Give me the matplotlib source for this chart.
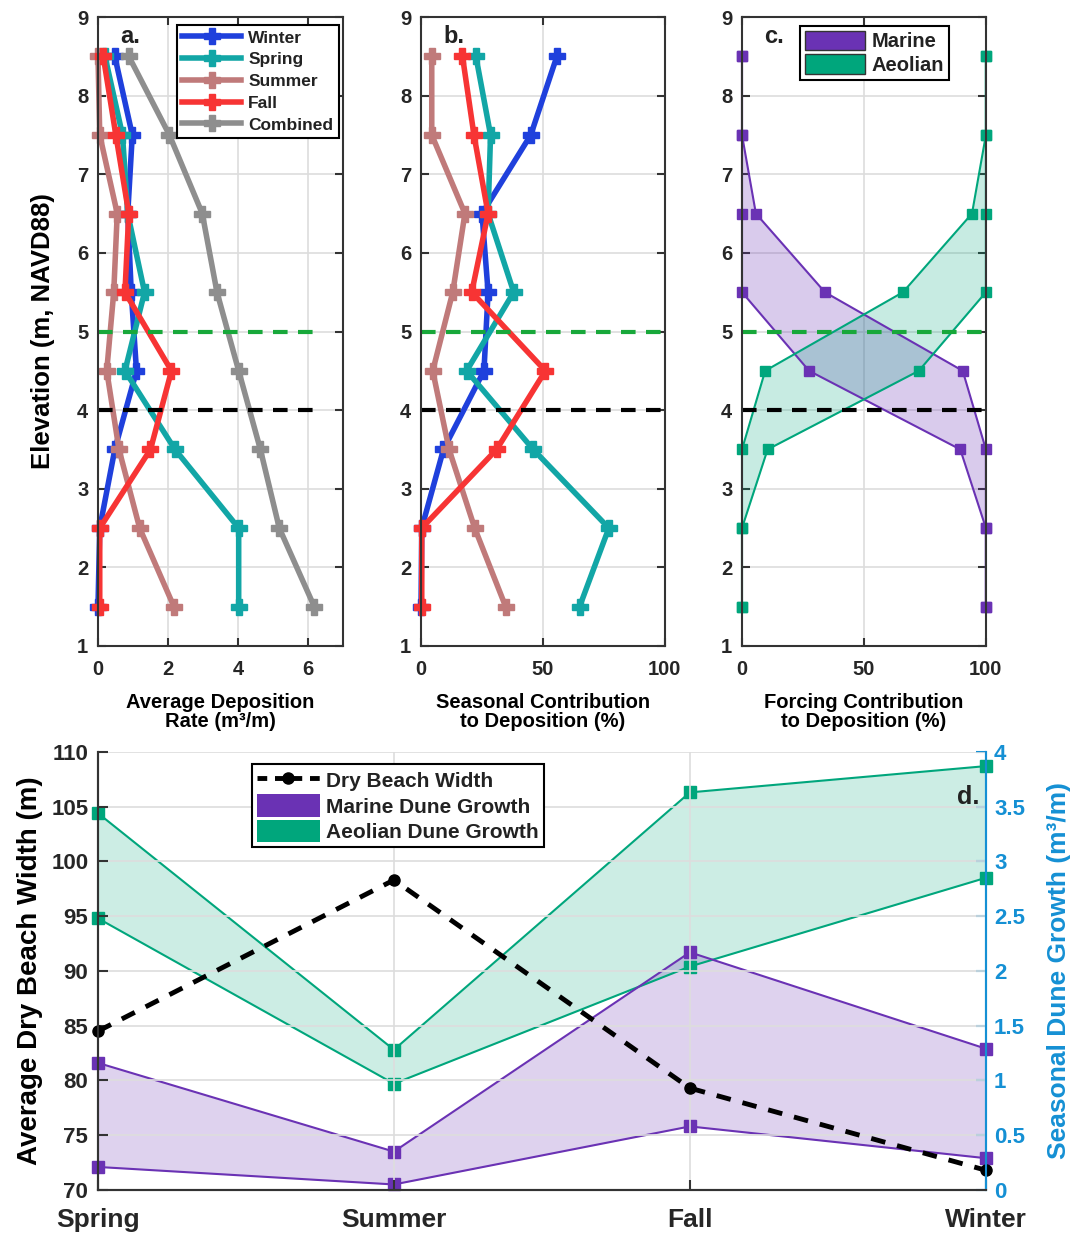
import matplotlib
matplotlib.use("Agg")
import matplotlib.pyplot as plt
import numpy as np
from matplotlib.patches import Patch
from matplotlib.lines import Line2D

plt.rcParams['font.family'] = ['Liberation Sans', 'DejaVu Sans']
plt.rcParams['font.weight'] = 'bold'
plt.rcParams['text.color'] = '#222222'
plt.rcParams['xtick.color'] = '#333333'
plt.rcParams['ytick.color'] = '#333333'
plt.rcParams['xtick.labelcolor'] = '#262626'
plt.rcParams['ytick.labelcolor'] = '#262626'

# elevation bins (m, NAVD88)
elev = [8.5, 7.5, 6.5, 5.5, 4.5, 3.5, 2.5, 1.5]

# a. average deposition rate (m3/m)
rate_winter = [0.48, 0.98, 0.85, 0.95, 1.1, 0.48, 0.05, 0.0]
rate_spring = [0.2, 0.7, 0.85, 1.33, 0.77, 2.2, 4.02, 4.02]
rate_summer = [0.0, 0.05, 0.55, 0.45, 0.25, 0.6, 1.19, 2.17]
rate_fall = [0.15, 0.51, 0.88, 0.77, 2.1, 1.5, 0.05, 0.05]
rate_comb = [0.88, 2.04, 2.98, 3.4, 4.02, 4.64, 5.18, 6.18]

# b. seasonal contribution (%)
pct_winter = [55.7, 45, 25, 27.5, 25.8, 9.2, 0.3, 0.0]
pct_spring = [22.5, 28.5, 27.5, 38, 18.7, 46, 77, 65]
pct_summer = [4.4, 4.4, 18, 13, 4.8, 11.5, 22, 34.7]
pct_fall = [17, 21.7, 27.5, 20.8, 51, 31, 0.3, 0.3]

# c. forcing contribution (%)
marine_lo = [0, 0, 0, 0, 27.5, 89.5, 100, 100]
marine_hi = [0, 0, 5.7, 34, 90.5, 100, 100, 100]
aeolian_lo = [100, 100, 94.3, 66, 9.5, 0, 0, 0]
aeolian_hi = [100, 100, 100, 100, 72.5, 10.5, 0, 0]

# d. seasonal series
seasons = ['Spring', 'Summer', 'Fall', 'Winter']
beach_width = [84.5, 98.3, 79.3, 71.8]
aeo_growth_hi = [3.44, 1.28, 3.63, 3.87]
aeo_growth_lo = [2.48, 0.97, 2.04, 2.85]
mar_growth_hi = [1.16, 0.35, 2.17, 1.29]
mar_growth_lo = [0.21, 0.05, 0.58, 0.29]

c_winter = '#1f40dc'
c_spring = '#12a6a6'
c_summer = '#c07a7a'
c_fall = '#f73434'
c_comb = '#8e8e8e'
c_purple = '#6a32b4'
c_green = '#00a67c'
c_dgreen = '#18a83a'
c_blue = '#1590d4'

fig = plt.figure(figsize=(10.84, 12.34), dpi=100)
ax_a = fig.add_axes([0.0904, 0.4765, 0.226, 0.5097])
ax_b = fig.add_axes([0.3884, 0.4765, 0.225, 0.5097])
ax_c = fig.add_axes([0.6845, 0.4765, 0.225, 0.5097])
ax_d = fig.add_axes([0.0904, 0.0357, 0.819, 0.355])


def style_top(ax):
    ax.set_ylim(1, 9)
    ax.set_yticks(range(1, 10))
    ax.grid(True, color='#dddddd', linewidth=1.2)
    ax.set_axisbelow(True)
    ax.tick_params(direction='in', top=True, right=True, length=6, width=1.5, labelsize=14.5)
    ax.tick_params(axis='x', pad=10)
    ax.tick_params(axis='y', pad=7)
    for s in ax.spines.values():
        s.set_linewidth(1.5)
        s.set_color('#333333')
    for lab in ax.get_xticklabels() + ax.get_yticklabels():
        lab.set_fontweight('bold')


seas_kw = dict(lw=4, marker='P', ms=12, mew=1, clip_on=False)

# panel a
for vals, col, name in [(rate_winter, c_winter, 'Winter'), (rate_spring, c_spring, 'Spring'),
                        (rate_summer, c_summer, 'Summer'), (rate_fall, c_fall, 'Fall'),
                        (rate_comb, c_comb, 'Combined')]:
    ax_a.plot(vals, elev, color=col, label=name, **seas_kw)
ax_a.plot([0, 6.4], [5, 5], '--', color=c_dgreen, lw=3, dashes=(3.5, 2.5))
ax_a.plot([0, 6.4], [4, 4], '--', color='black', lw=3, dashes=(3.5, 2.5))
ax_a.set_xlim(0, 7)
ax_a.set_xticks([0, 2, 4, 6])
style_top(ax_a)
ax_a.set_xlabel('Average Deposition\nRate (m³/m)', fontsize=14.5, fontweight='bold', labelpad=10,
                linespacing=1.0)
ax_a.set_ylabel('Elevation (m, NAVD88)', fontsize=18.5, fontweight='bold', labelpad=16)
leg = ax_a.legend(loc='upper right', bbox_to_anchor=(0.982, 0.987), borderaxespad=0,
                  fontsize=12.5, handlelength=3.4, handletextpad=0.4, borderpad=0.3,
                  labelspacing=0.38, fancybox=False, edgecolor='black', framealpha=1)
leg.get_frame().set_linewidth(1.5)
for t in leg.get_texts():
    t.set_fontweight('bold')
ax_a.text(0.09, 0.988, 'a.', transform=ax_a.transAxes, fontsize=17, fontweight='bold', va='top')

# panel b
for vals, col in [(pct_winter, c_winter), (pct_spring, c_spring),
                  (pct_summer, c_summer), (pct_fall, c_fall)]:
    ax_b.plot(vals, elev, color=col, **seas_kw)
ax_b.plot([0, 100], [5, 5], '--', color=c_dgreen, lw=3, dashes=(3.5, 2.5))
ax_b.plot([0, 100], [4, 4], '--', color='black', lw=3, dashes=(3.5, 2.5))
ax_b.set_xlim(0, 100)
ax_b.set_xticks([0, 50, 100])
style_top(ax_b)
ax_b.set_xlabel('Seasonal Contribution\nto Deposition (%)', fontsize=14.5, fontweight='bold',
                labelpad=10, linespacing=1.0)
ax_b.text(0.09, 0.988, 'b.', transform=ax_b.transAxes, fontsize=17, fontweight='bold', va='top')

# panel c
ax_c.fill_betweenx(elev, marine_lo, marine_hi, color=c_purple, alpha=0.25, lw=0)
ax_c.fill_betweenx(elev, aeolian_lo, aeolian_hi, color=c_green, alpha=0.22, lw=0)
for vals, col in [(marine_lo, c_purple), (marine_hi, c_purple),
                  (aeolian_lo, c_green), (aeolian_hi, c_green)]:
    ax_c.plot(vals, elev, color=col, lw=1.5, marker='s', ms=7, clip_on=False)
ax_c.plot([0, 100], [5, 5], '--', color=c_dgreen, lw=3, dashes=(3.5, 2.5))
ax_c.plot([0, 100], [4, 4], '--', color='black', lw=3, dashes=(3.5, 2.5))
ax_c.set_xlim(0, 100)
ax_c.set_xticks([0, 50, 100])
style_top(ax_c)
ax_c.set_xlabel('Forcing Contribution\nto Deposition (%)', fontsize=14.5, fontweight='bold',
                labelpad=10, linespacing=1.0)
ax_c.text(0.09, 0.988, 'c.', transform=ax_c.transAxes, fontsize=17, fontweight='bold', va='top')
legc = ax_c.legend(handles=[Patch(facecolor=c_purple, edgecolor='#333333', label='Marine'),
                            Patch(facecolor=c_green, edgecolor='#333333', label='Aeolian')],
                   loc='upper left', bbox_to_anchor=(0.238, 0.986), borderaxespad=0,
                   fontsize=14.5, handlelength=3.0, handleheight=1.1, handletextpad=0.3,
                   borderpad=0.25, labelspacing=0.15, fancybox=False, edgecolor='black',
                   framealpha=1)
legc.get_frame().set_linewidth(1.5)
for t in legc.get_texts():
    t.set_fontweight('bold')

# panel d
x = np.arange(len(seasons))
ax2 = ax_d.twinx()
ax2.fill_between(x, aeo_growth_lo, aeo_growth_hi, color=c_green, alpha=0.2, lw=0)
ax2.fill_between(x, mar_growth_lo, mar_growth_hi, color=c_purple, alpha=0.22, lw=0)
for vals, col in [(aeo_growth_hi, c_green), (aeo_growth_lo, c_green),
                  (mar_growth_hi, c_purple), (mar_growth_lo, c_purple)]:
    ax2.plot(x, vals, color=col, lw=1.5, marker='s', ms=8, clip_on=False)
ax2.set_ylim(0, 4)
ax2.set_yticks(np.arange(0, 4.01, 0.5))
ax2.set_yticklabels(['0', '0.5', '1', '1.5', '2', '2.5', '3', '3.5', '4'])
ax2.tick_params(direction='in', colors=c_blue, length=7, width=1.5, labelsize=16, pad=6)
ax2.tick_params(labelcolor=c_blue)
for lab in ax2.get_yticklabels():
    lab.set_fontweight('bold')
ax2.set_ylabel('Seasonal Dune Growth (m³/m)', color=c_blue, fontsize=19, fontweight='bold',
               labelpad=16)

ax_d.set_zorder(ax2.get_zorder() + 1)
ax_d.patch.set_visible(False)
ax_d.plot(x, beach_width, '--', color='black', lw=3.5, dashes=(3, 2.5), marker='o', ms=8,
          clip_on=False)
ax_d.set_xlim(0, 3)
ax_d.set_ylim(70, 110)
ax_d.set_yticks(range(70, 111, 5))
ax_d.set_xticks(x)
ax_d.set_xticklabels(seasons)
ax_d.grid(True, color='#dddddd', linewidth=1.2)
ax_d.tick_params(direction='in', length=7, width=1.5, labelsize=16, pad=7)
ax_d.tick_params(axis='x', labelsize=19, pad=13)
for lab in ax_d.get_xticklabels() + ax_d.get_yticklabels():
    lab.set_fontweight('bold')
ax_d.set_ylabel('Average Dry Beach Width (m)', fontsize=20, fontweight='bold', labelpad=6)
for ax in (ax_d, ax2):
    ax.spines['top'].set_visible(False)
    ax.spines['left'].set_linewidth(1.5)
    ax.spines['bottom'].set_linewidth(1.5)
    ax.spines['left'].set_color('#333333')
    ax.spines['bottom'].set_color('#333333')
    ax.spines['right'].set_color(c_blue)
    ax.spines['right'].set_linewidth(1.5)
ax_d.text(0.993, 0.925, 'd.', transform=ax_d.transAxes, fontsize=18, fontweight='bold',
          ha='right', va='top')

handles = [Line2D([0], [0], color='black', lw=3.5, ls='--', dashes=(2, 1.6), marker='o', ms=8,
                  label='Dry Beach Width'),
           Patch(facecolor=c_purple, edgecolor='none', label='Marine Dune Growth'),
           Patch(facecolor=c_green, edgecolor='none', label='Aeolian Dune Growth')]
legd = ax_d.legend(handles=handles, loc='upper left', bbox_to_anchor=(0.1734, 0.9726),
                   borderaxespad=0, fontsize=15, handlelength=3.0, handleheight=1.3,
                   handletextpad=0.3, borderpad=0.25, labelspacing=0.12, fancybox=False,
                   edgecolor='black', framealpha=1)
legd.get_frame().set_linewidth(1.5)
for t in legd.get_texts():
    t.set_fontweight('bold')

fig.savefig('out.png', dpi=100)
